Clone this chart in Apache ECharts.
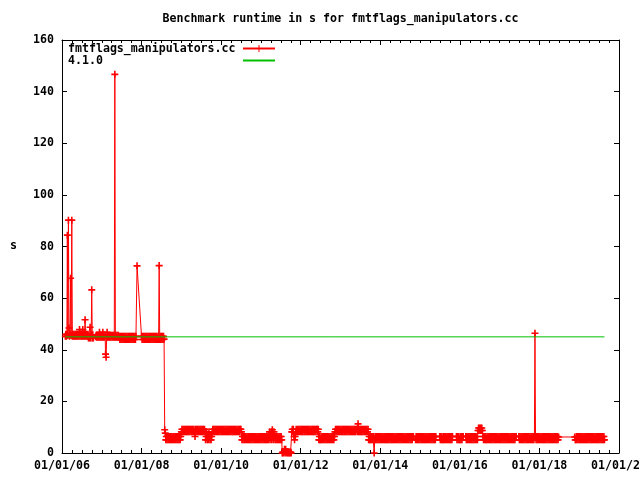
<!DOCTYPE html>
<html><head><meta charset="utf-8">
<script src="https://cdn.jsdelivr.net/npm/echarts@6/dist/echarts.min.js"></script>
<style>html,body{margin:0;padding:0;background:#fff}#c{width:640px;height:480px}</style>
</head><body><div id="c"></div>
<script>
const chartTitle = 'Benchmark runtime in s for fmtflags_manipulators.cc';
const yAxisTitle = 's';
const seriesNames = ['fmtflags_manipulators.cc', '4.1.0'];
const xTickLabels = ['01/01/06','01/01/08','01/01/10','01/01/12','01/01/14','01/01/16','01/01/18','01/01/20'];
const yTickValues = [0,20,40,60,80,100,120,140,160];

// runtimes (s) of fmtflags_manipulators.cc, six run slots per month (null = no run)
const runtimeByMonth = [
['2006-02',45.2,46.0,45.2,46.0,84.4,45.5],
['2006-03',90.2,48.4,45.2,46.0,67.7,45.5],
['2006-04',90.2,45.2,46.0,45.2,46.0,45.2],
['2006-05',46.0,45.2,46.0,45.2,46.0,45.2],
['2006-06',46.0,45.2,47.8,45.2,46.0,45.2],
['2006-07',46.0,45.2,47.8,45.2,46.0,45.2],
['2006-08',51.6,45.2,46.0,45.2,46.0,45.2],
['2006-09',44.6,45.8,44.6,48.7,44.6,45.8],
['2006-10',63.2,44.6,45.8,44.6,null,null],
['2006-11',null,45.0,45.6,44.8,45.6,44.8],
['2006-12',45.6,44.8,46.8,44.8,45.6,44.8],
['2007-01',45.6,44.8,46.8,44.8,45.6,44.8],
['2007-02',45.6,38.3,37.1,44.8,46.8,44.8],
['2007-03',45.6,44.8,45.6,44.8,45.6,44.8],
['2007-04',45.6,44.8,45.6,44.8,45.6,44.8],
['2007-05',146.7,44.8,45.6,44.8,45.6,44.8],
['2007-06',45.6,44.8,45.2,44.0,45.2,44.0],
['2007-07',45.2,44.0,45.2,44.0,45.2,44.0],
['2007-08',45.2,44.0,45.2,44.0,45.2,44.0],
['2007-09',45.2,44.0,45.2,44.0,45.2,44.0],
['2007-10',45.2,44.0,45.2,44.0,45.2,44.0],
['2007-11',45.2,44.0,45.2,null,72.5,null],
['2008-01',45.2,44.0,45.2,44.0,45.2,44.0],
['2008-02',45.2,44.0,45.2,44.0,45.2,44.0],
['2008-03',45.2,44.0,45.2,44.0,45.2,44.0],
['2008-04',45.2,44.0,45.2,44.0,45.2,44.0],
['2008-05',45.2,44.0,45.2,44.0,45.2,44.0],
['2008-06',45.2,44.0,72.6,44.0,45.2,44.0],
['2008-07',45.2,44.0,45.2,44.0,45.2,44.1],
['2008-08',9.0,7.7,5.1,6.4,5.1,6.4],
['2008-09',5.1,6.4,5.1,6.4,5.1,6.4],
['2008-10',5.1,6.4,5.1,6.4,5.1,6.4],
['2008-11',5.1,6.4,5.1,6.4,5.1,6.4],
['2008-12',5.1,6.4,5.1,6.4,5.1,6.4],
['2009-01',8.2,9.2,8.2,9.2,8.2,9.2],
['2009-02',8.2,9.2,8.2,9.2,8.2,9.2],
['2009-03',8.2,9.2,8.2,9.2,8.2,9.2],
['2009-04',8.2,9.2,8.2,9.2,8.2,9.2],
['2009-05',8.2,6.4,9.2,8.2,9.2,8.2],
['2009-06',9.2,8.2,9.2,8.2,9.2,8.2],
['2009-07',9.2,8.2,9.2,8.2,9.2,8.2],
['2009-08',9.2,8.2,5.1,6.4,8.2,5.1],
['2009-09',6.4,5.1,8.2,6.4,5.1,6.4],
['2009-10',5.1,6.4,8.2,9.2,8.2,9.2],
['2009-11',8.2,9.2,8.2,9.2,8.2,9.2],
['2009-12',8.2,9.2,8.2,9.2,8.2,9.2],
['2010-01',8.2,9.2,8.2,9.2,8.2,9.2],
['2010-02',8.2,9.2,8.2,9.2,8.2,9.2],
['2010-03',8.2,9.2,8.2,9.2,8.2,9.2],
['2010-04',8.2,9.2,8.2,9.2,8.2,9.2],
['2010-05',8.2,9.2,8.2,9.2,8.2,9.2],
['2010-06',8.2,9.2,8.2,9.2,8.2,9.2],
['2010-07',9.2,8.2,5.1,6.4,5.1,6.4],
['2010-08',5.1,6.4,5.1,6.4,5.1,6.4],
['2010-09',5.1,6.4,5.1,6.4,5.1,6.4],
['2010-10',5.1,6.4,5.1,6.4,5.1,6.4],
['2010-11',5.1,6.4,5.1,6.4,5.1,6.4],
['2010-12',5.1,6.4,5.1,6.4,5.1,6.4],
['2011-01',5.1,6.4,5.1,6.4,5.1,6.4],
['2011-02',5.1,6.4,5.1,6.4,5.1,6.4],
['2011-03',5.1,6.4,5.1,6.4,8.2,5.1],
['2011-04',6.4,8.2,5.1,9.0,6.4,5.1],
['2011-05',8.2,6.4,5.1,6.4,5.1,6.4],
['2011-06',5.1,6.4,5.1,6.4,5.1,6.4],
['2011-07',5.1,6.4,5.1,0.0,0.4,0.0],
['2011-08',0.4,1.5,0.0,1.5,0.4,0.0],
['2011-09',0.4,0.0,0.4,0.0,0.4,0.0],
['2011-10',0.4,0.0,8.2,9.2,8.2,9.2],
['2011-11',6.4,5.1,6.4,8.2,9.2,8.2],
['2011-12',8.2,9.2,8.2,9.2,8.2,9.2],
['2012-01',8.2,9.2,8.2,9.2,8.2,9.2],
['2012-02',8.2,9.2,8.2,9.2,8.2,9.2],
['2012-03',8.2,9.2,8.2,9.2,8.2,9.2],
['2012-04',8.2,9.2,8.2,9.2,8.2,9.2],
['2012-05',8.2,9.2,8.2,9.2,8.2,9.2],
['2012-06',9.2,8.2,9.2,5.1,6.4,5.1],
['2012-07',5.1,6.4,5.1,6.4,5.1,6.4],
['2012-08',5.1,6.4,5.1,6.4,5.1,6.4],
['2012-09',5.1,6.4,5.1,6.4,5.1,6.4],
['2012-10',5.1,6.4,5.1,6.4,5.1,6.4],
['2012-11',5.1,6.4,8.2,9.2,8.2,9.2],
['2012-12',8.2,9.2,8.2,9.2,8.2,9.2],
['2013-01',8.2,9.2,8.2,9.2,8.2,9.2],
['2013-02',8.2,9.2,8.2,9.2,8.2,9.2],
['2013-03',8.2,9.2,8.2,9.2,8.2,9.2],
['2013-04',8.2,9.2,8.2,9.2,8.2,9.2],
['2013-05',8.2,9.2,8.2,9.2,8.2,9.2],
['2013-06',9.2,8.2,11.3,8.2,9.2,8.2],
['2013-07',9.2,8.2,9.2,8.2,9.2,8.2],
['2013-08',9.2,8.2,9.2,8.2,9.2,8.2],
['2013-09',9.2,8.2,9.2,5.1,6.4,5.1],
['2013-10',5.1,6.4,5.1,6.4,5.1,6.4],
['2013-11',6.4,0.0,5.1,6.4,5.1,6.4],
['2013-12',5.1,6.4,5.1,6.4,5.1,6.4],
['2014-01',5.1,6.4,5.1,6.4,5.1,6.4],
['2014-02',5.1,6.4,5.1,6.4,5.1,6.4],
['2014-03',5.1,6.4,5.1,6.4,5.1,6.4],
['2014-04',5.1,6.4,5.1,6.4,5.1,6.4],
['2014-05',5.1,6.4,5.1,6.4,5.1,6.4],
['2014-06',5.1,6.4,5.1,6.4,5.1,6.4],
['2014-07',5.1,6.4,5.1,6.4,5.1,6.4],
['2014-08',5.1,6.4,5.1,6.4,5.1,6.4],
['2014-09',5.1,6.4,5.1,6.4,5.1,6.4],
['2014-10',5.1,6.4,5.1,6.4,5.1,6.4],
['2014-11',6.4,null,null,null,5.1,6.4],
['2014-12',5.1,6.4,5.1,6.4,5.1,6.4],
['2015-01',5.1,6.4,5.1,6.4,5.1,6.4],
['2015-02',5.1,6.4,5.1,6.4,5.1,6.4],
['2015-03',5.1,6.4,5.1,6.4,5.1,6.4],
['2015-04',5.1,6.4,5.1,6.4,5.1,6.4],
['2015-05',5.1,6.4,5.1,6.4,5.1,6.4],
['2015-07',6.4,5.1,6.4,5.1,6.4,5.1],
['2015-08',5.1,6.4,5.1,6.4,5.1,6.4],
['2015-09',5.1,6.4,5.1,6.4,5.1,6.4],
['2015-10',5.1,6.4,5.1,6.4,5.1,6.4],
['2015-12',6.4,5.1,6.4,5.1,6.4,5.1],
['2016-01',5.1,6.4,5.1,6.4,5.1,6.4],
['2016-02',6.4,null,null,null,null,6.4],
['2016-03',5.1,6.4,5.1,6.4,5.1,6.4],
['2016-04',5.1,6.4,5.1,6.4,5.1,6.4],
['2016-05',5.1,6.4,5.1,6.4,5.1,6.4],
['2016-06',5.1,6.4,5.1,8.7,9.7,8.7],
['2016-07',9.7,8.7,9.7,8.7,9.7,8.7],
['2016-08',6.4,5.1,6.4,5.1,6.4,5.1],
['2016-09',5.1,6.4,5.1,6.4,5.1,6.4],
['2016-10',5.1,6.4,5.1,6.4,5.1,6.4],
['2016-11',5.1,6.4,5.1,6.4,5.1,6.4],
['2016-12',5.1,6.4,5.1,6.4,5.1,6.4],
['2017-01',5.1,6.4,5.1,6.4,5.1,6.4],
['2017-02',5.1,6.4,5.1,6.4,5.1,6.4],
['2017-03',5.1,6.4,5.1,6.4,5.1,6.4],
['2017-04',5.1,6.4,5.1,6.4,5.1,6.4],
['2017-05',5.1,6.4,5.1,6.4,5.1,6.4],
['2017-06',6.4,null,null,null,null,6.4],
['2017-07',5.1,6.4,5.1,6.4,5.1,6.4],
['2017-08',5.1,6.4,5.1,6.4,5.1,6.4],
['2017-09',5.1,6.4,5.1,6.4,5.1,6.4],
['2017-10',5.1,6.4,5.1,6.4,5.1,6.4],
['2017-11',5.1,6.4,5.1,6.4,46.4,6.4],
['2017-12',5.1,6.4,5.1,6.4,5.1,6.4],
['2018-01',5.1,6.4,5.1,6.4,5.1,6.4],
['2018-02',5.1,6.4,5.1,6.4,5.1,6.4],
['2018-03',5.1,6.4,5.1,6.4,5.1,6.4],
['2018-04',5.1,6.4,5.1,6.4,5.1,6.4],
['2018-05',5.1,6.4,5.1,6.4,5.1,6.4],
['2018-06',5.1,6.4,5.1,6.4,5.1,6.2],
['2018-11',null,null,null,null,6.2,5.1],
['2018-12',5.1,6.4,5.1,6.4,5.1,6.4],
['2019-01',5.1,6.4,5.1,6.4,5.1,6.4],
['2019-02',5.1,6.4,5.1,6.4,5.1,6.4],
['2019-03',5.1,6.4,5.1,6.4,5.1,6.4],
['2019-04',5.1,6.4,5.1,6.4,5.1,6.4],
['2019-05',5.1,6.4,5.1,6.4,5.1,6.4],
['2019-06',5.1,6.4,5.1,6.4,5.1,6.4],
['2019-07',5.1,6.4,5.1,6.4,5.1,6.4],
['2019-08',5.1,6.4,5.1,6.4,5.1,null]
];

// reference runtime for release 4.1.0: [date, seconds]
const release410Runs = [['2006-02-01',45.0],['2019-08-21',45.0]];

const FONT = 'DejaVu Sans Mono';
const DAY0 = Date.UTC(2006, 0, 1);
const DAY_MS = 86400000;
const TWO_YEARS = 730.5;
const PLUS_THIN = 'path://M0,3H3V0H4V3H7V4H4V7H3V4H0Z';
const PLUS = 'path://M0,2.7H2.7V0H4.3V2.7H7V4.3H4.3V7H2.7V4.3H0Z';
const RED = '#ff0000';
const GREEN = '#00c000';

// place each monthly run slot on its day within the month
const fmtflagsPoints = [];
runtimeByMonth.forEach(row => {
  const [y, m] = row[0].split('-').map(Number);
  const vals = row.slice(1);
  const dim = new Date(Date.UTC(y, m, 0)).getUTCDate();
  vals.forEach((v, i) => {
    if (v === null) return;
    const day = 1 + Math.floor(i * dim / vals.length);
    fmtflagsPoints.push([(Date.UTC(y, m - 1, day) - DAY0) / DAY_MS, v]);
  });
});
const release410Points = release410Runs.map(r => [(Date.parse(r[0]) - DAY0) / DAY_MS, r[1]]);

const chart = echarts.init(document.getElementById('c'), null, {renderer: 'canvas'});

function xAxisDef(pos, showLabel) {
  return {
    type: 'value', position: pos, min: 0, max: TWO_YEARS * (xTickLabels.length - 1), interval: TWO_YEARS,
    axisLine: {show: true, onZero: false, lineStyle: {color: '#000', width: 1}},
    axisTick: {show: true, inside: true, length: 5, lineStyle: {color: '#000', width: 1}},
    minorTick: {show: true, splitNumber: 8, length: 3, lineStyle: {color: '#000', width: 1}},
    splitLine: {show: false}, minorSplitLine: {show: false},
    axisLabel: {
      show: showLabel, margin: 7, color: '#000', fontFamily: FONT, fontSize: 11.6, fontWeight: 'bold',
      hideOverlap: false,
      formatter: v => xTickLabels[Math.round(v / TWO_YEARS)] || ''
    }
  };
}
function yAxisDef(pos, showLabel) {
  return {
    type: 'value', position: pos, min: yTickValues[0], max: yTickValues[yTickValues.length - 1],
    interval: yTickValues[1] - yTickValues[0],
    axisLine: {show: true, onZero: false, lineStyle: {color: '#000', width: 1}},
    axisTick: {show: true, inside: true, length: 5, lineStyle: {color: '#000', width: 1}},
    splitLine: {show: false},
    axisLabel: {show: showLabel, margin: 8, color: '#000', fontFamily: FONT, fontSize: 11.6, fontWeight: 'bold'}
  };
}

chart.setOption({
  animation: false,
  backgroundColor: '#fff',
  title: {
    text: chartTitle, left: 340.5, top: 13, textAlign: 'center', padding: 0,
    textStyle: {fontFamily: FONT, fontSize: 11.6, fontWeight: 'bold', color: '#000'}
  },
  grid: {left: 62, right: 21, top: 40, bottom: 27, containLabel: false, outerBoundsMode: 'none'},
  legend: {
    orient: 'vertical', left: 68, top: 42.5, padding: 0, itemGap: 0, align: 'right',
    itemWidth: 32, itemHeight: 8.75, selectedMode: false,
    formatter: n => '{t|' + n + '}',
    textStyle: {rich: {t: {width: 170, align: 'left', fontFamily: FONT, fontSize: 11.6, fontWeight: 'bold', color: '#000', lineHeight: 13.5}}},
    data: seriesNames
  },
  graphic: [{
    type: 'text', left: 10, top: 240, silent: true,
    style: {text: yAxisTitle, fontFamily: FONT, fontSize: 11.6, fontWeight: 'bold', fill: '#000'}
  }],
  xAxis: [xAxisDef('bottom', true), xAxisDef('top', false)],
  yAxis: [yAxisDef('left', true), yAxisDef('right', false)],
  series: [{
    name: seriesNames[0], type: 'line', xAxisIndex: 0, yAxisIndex: 0,
    data: fmtflagsPoints, symbol: PLUS_THIN, symbolSize: 7, showSymbol: false, clip: false, silent: true,
    lineStyle: {color: RED, width: 1}, itemStyle: {color: RED},
    emphasis: {disabled: true}, z: 2
  }, {
    name: seriesNames[0] + ' runs', type: 'scatter', xAxisIndex: 0, yAxisIndex: 0,
    data: fmtflagsPoints, symbol: PLUS, symbolSize: 7, clip: false, silent: true, large: false,
    itemStyle: {color: RED, borderWidth: 0, opacity: 1},
    emphasis: {disabled: true}, z: 2
  }, {
    name: seriesNames[1], type: 'line', xAxisIndex: 0, yAxisIndex: 0,
    data: release410Points, symbol: 'circle', showSymbol: false, silent: true,
    lineStyle: {color: GREEN, width: 1, opacity: 1}, itemStyle: {color: GREEN, opacity: 0},
    emphasis: {disabled: true}, z: 3
  }]
});
</script>
</body></html>
